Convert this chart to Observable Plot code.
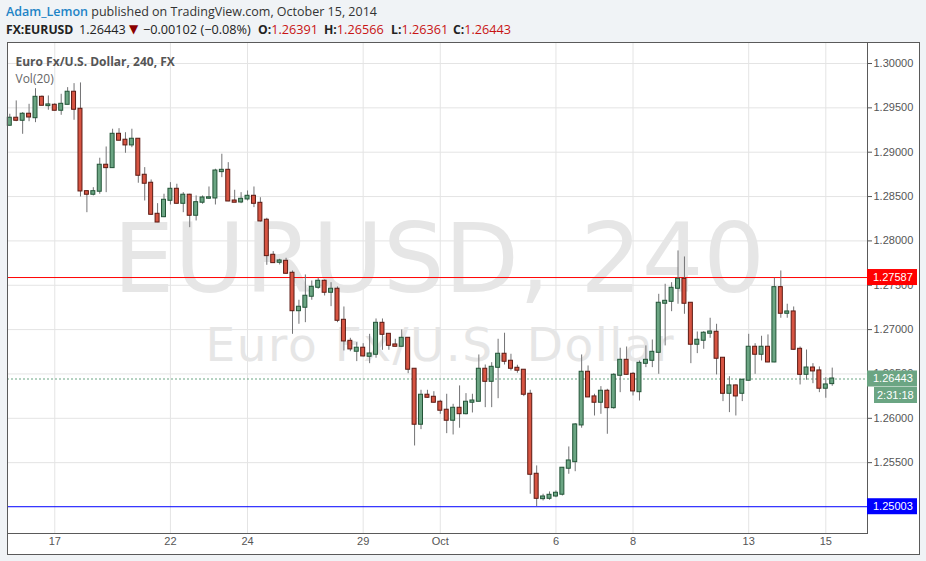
<!DOCTYPE html>
<html>
<head>
<meta charset="utf-8">
<script src="https://cdn.jsdelivr.net/npm/d3@7"></script>
<script src="https://cdn.jsdelivr.net/npm/@observablehq/plot@0.6"></script>
<style>
html, body { margin:0; padding:0; background:#f0f3f6; width:926px; height:561px; overflow:hidden; }
#hdr { position:absolute; left:0; top:0; width:926px; height:42px; font-family:"Open Sans", sans-serif; color:#333; }
#l1 { position:absolute; left:6px; top:3px; font-size:12.5px; line-height:18px; white-space:nowrap; }
#l1 .user { color:#1e84c6; font-weight:600; }
#l2 { position:absolute; left:0; top:19.5px; width:926px; height:18px; font-size:12.7px; line-height:18px; white-space:nowrap; color:#222; }
#l2 span { position:absolute; top:0; }
#l2 b { font-weight:bold; font-size:12.2px; }
#l2 .v { color:#c81414; font-style:normal; }
#l2 .tri { color:#8b0000; font-size:12px; font-family:"DejaVu Sans", sans-serif; }
#frame { position:absolute; left:7px; top:42px; width:911px; height:511px; border:1px solid #5a5a5a; background:#fff; }
#chart { position:absolute; left:0; top:42px; }
</style>
</head>
<body>
<div id="hdr">
  <div id="l1"><span class="user">Adam_Lemon</span> published on TradingView.com, October 15, 2014</div>
  <div id="l2">
    <span style="left:6px"><b>FX:EURUSD</b></span>
    <span style="left:79px">1.26443</span>
    <span class="tri" style="left:129px">▼</span>
    <span style="left:143px">−0.00102 (−0.08%)</span>
    <span style="left:258px"><b>O:</b><i class="v">1.26391</i></span>
    <span style="left:324px"><b>H:</b><i class="v">1.26566</i></span>
    <span style="left:391px"><b>L:</b><i class="v">1.26361</i></span>
    <span style="left:453px"><b>C:</b><i class="v">1.26443</i></span>
  </div>
</div>
<div id="frame"></div>
<div id="chart"></div>
<script>
// ---- data (EUR/USD, 240-minute candles) ----
const open = [1.29304,1.29383,1.29360,1.29428,1.29389,1.29619,1.29525,1.29529,1.29473,1.29540,
1.29676,1.29484,1.28555,1.28526,1.28560,1.28853,1.28826,1.29202,1.29135,1.29082,
1.29146,1.28740,1.28650,1.28300,1.28273,1.28458,1.28582,1.28424,1.28515,1.28289,
1.28436,1.28481,1.28484,1.28781,1.28796,1.28450,1.28439,1.28473,1.28503,1.28424,
1.28233,1.27838,1.27759,1.27770,1.27635,1.27213,1.27252,1.27376,1.27477,1.27545,
1.27421,1.27455,1.27105,1.26868,1.26756,1.26790,1.26699,1.26722,1.27071,1.26947,
1.26827,1.26812,1.26902,1.26553,1.25933,1.26260,1.26237,1.26181,1.26091,1.25978,
1.26113,1.26052,1.26181,1.26192,1.26553,1.26417,1.26575,1.26722,1.26643,1.26564,
1.26542,1.26271,1.25369,1.25094,1.25098,1.25124,1.25144,1.25437,1.25511,1.25925,
1.26519,1.26241,1.26181,1.26305,1.26120,1.26485,1.26654,1.26496,1.26300,1.26620,
1.26654,1.26744,1.27297,1.27319,1.27466,1.27567,1.27297,1.26835,1.26880,1.26959,
1.26970,1.26677,1.26282,1.26365,1.26282,1.26429,1.26801,1.26722,1.26801,1.26635,
1.27473,1.27184,1.27199,1.26778,1.26496,1.26567,1.26534,1.26339,1.26391];
const high = [1.29428,1.29578,1.29446,1.29540,1.29716,1.29634,1.29634,1.29547,1.29653,1.29728,
1.29773,1.29781,1.28563,1.28600,1.28932,1.29059,1.29259,1.29265,1.29220,1.29259,
1.29150,1.28826,1.28687,1.28420,1.28526,1.28657,1.28639,1.28544,1.28526,1.28507,
1.28507,1.28608,1.28808,1.28977,1.28882,1.28571,1.28544,1.28563,1.28608,1.28487,
1.28255,1.27879,1.27793,1.27804,1.27661,1.27331,1.27616,1.27548,1.27579,1.27560,
1.27529,1.27481,1.27255,1.26902,1.26853,1.26841,1.26947,1.27120,1.27120,1.26954,
1.26891,1.26996,1.26909,1.26556,1.26316,1.26316,1.26300,1.26203,1.26271,1.26158,
1.26365,1.26278,1.26271,1.26714,1.26601,1.26627,1.26891,1.26959,1.26722,1.26598,
1.26545,1.26316,1.25463,1.25144,1.25170,1.25181,1.25443,1.25677,1.25940,1.26714,
1.26590,1.26271,1.26357,1.26327,1.26503,1.26790,1.26804,1.26515,1.26646,1.26816,
1.26883,1.27398,1.27511,1.27529,1.27887,1.27819,1.27304,1.26973,1.26977,1.27128,
1.27060,1.26684,1.26469,1.26376,1.26440,1.26947,1.26841,1.26925,1.26940,1.27580,
1.27661,1.27286,1.27255,1.26804,1.26770,1.26616,1.26579,1.26458,1.26566];
const low = [1.29296,1.29344,1.29202,1.29344,1.29333,1.29525,1.29473,1.29465,1.29416,1.29535,
1.29360,1.28495,1.28318,1.28507,1.28526,1.28544,1.28819,1.29127,1.28988,1.29051,
1.28650,1.28450,1.28289,1.28206,1.28262,1.28405,1.28413,1.28318,1.28149,1.28225,
1.28413,1.28469,1.28405,1.28713,1.28442,1.28436,1.28420,1.28450,1.28375,1.28213,
1.27725,1.27755,1.27729,1.27624,1.26947,1.27060,1.27078,1.27331,1.27455,1.27379,
1.27259,1.27078,1.26759,1.26751,1.26639,1.26692,1.26616,1.26677,1.26767,1.26767,
1.26804,1.26804,1.26503,1.25688,1.25872,1.26226,1.26173,1.26045,1.25827,1.25812,
1.25888,1.26038,1.26060,1.26188,1.26120,1.26120,1.26221,1.26601,1.26534,1.26508,
1.26244,1.25144,1.25003,1.25068,1.25076,1.25105,1.25124,1.25369,1.25398,1.25888,
1.26236,1.26026,1.26045,1.25820,1.26102,1.26289,1.26485,1.26252,1.26195,1.26571,
1.26571,1.26496,1.26816,1.27202,1.27286,1.27173,1.26616,1.26729,1.26778,1.26902,
1.26489,1.26188,1.26064,1.26026,1.26188,1.26421,1.26496,1.26646,1.26627,1.26627,
1.27128,1.27128,1.26770,1.26376,1.26429,1.26390,1.26289,1.26226,1.26361];
const close = [1.29383,1.29360,1.29428,1.29397,1.29619,1.29529,1.29533,1.29473,1.29540,1.29676,
1.29484,1.28563,1.28526,1.28555,1.28853,1.28826,1.29202,1.29135,1.29082,1.29146,
1.28740,1.28650,1.28300,1.28213,1.28458,1.28582,1.28424,1.28515,1.28289,1.28431,
1.28484,1.28486,1.28788,1.28796,1.28450,1.28436,1.28469,1.28503,1.28424,1.28225,
1.27834,1.27755,1.27774,1.27635,1.27213,1.27252,1.27376,1.27477,1.27545,1.27421,
1.27455,1.27105,1.26872,1.26782,1.26790,1.26703,1.26725,1.27071,1.26947,1.26823,
1.26812,1.26902,1.26553,1.25933,1.26260,1.26237,1.26181,1.26091,1.25978,1.26113,
1.26052,1.26181,1.26195,1.26553,1.26417,1.26575,1.26722,1.26643,1.26564,1.26542,
1.26271,1.25369,1.25098,1.25113,1.25132,1.25155,1.25437,1.25519,1.25925,1.26519,
1.26241,1.26181,1.26305,1.26120,1.26485,1.26654,1.26496,1.26308,1.26620,1.26654,
1.26744,1.27297,1.27319,1.27466,1.27567,1.27297,1.26835,1.26880,1.26959,1.26973,
1.26677,1.26282,1.26365,1.26252,1.26429,1.26801,1.26722,1.26801,1.26635,1.27473,
1.27184,1.27199,1.26778,1.26496,1.26567,1.26534,1.26339,1.26376,1.26443];

// x-axis: candle index of the first bar of each labelled day
const dayIdx = [8, 26, 38, 56, 68, 86, 98, 116, 128];
const dayLabels = ["17", "22", "24", "29", "Oct", "6", "8", "13", "15"];
// y-axis tick values
const priceTicks = [1.255, 1.26, 1.265, 1.27, 1.275, 1.28, 1.285, 1.29, 1.295, 1.30];
// horizontal levels
const levelHigh = 1.27587;
const levelLow = 1.25003;
const lastPrice = 1.26443;
const timerText = "2:31:18";
const titleText = "Euro Fx/U.S. Dollar, 240, FX";
const volText = "Vol(20)";
const wmMain = "EURUSD, 240";
const wmSub = "Euro Fx/U.S. Dollar";

const candles = open.map((o, k) => ({
  i: k + 1, o, h: high[k], l: low[k], c: close[k], up: close[k] >= open[k]
}));

const GREEN = "#6ba583", GREEN_B = "#225437", RED = "#d75442", RED_B = "#5b1a13";
const half = 0.31;

const chart = Plot.plot({
  width: 926,
  height: 519,
  marginLeft: 7,
  marginRight: 59,
  marginTop: 0,
  marginBottom: 28,
  style: { background: "transparent", fontFamily: "'Liberation Sans', Arial, sans-serif", fontSize: "11px", color: "#555", overflow: "visible" },
  x: { type: "linear", domain: [0.642, 134.49] },
  y: { domain: [1.247012, 1.302368] },
  marks: [
    Plot.ruleY(priceTicks, { stroke: "#e4e4e4" }),
    Plot.ruleX(dayIdx, { stroke: "#e4e4e4" }),
    Plot.text([wmMain], { frameAnchor: "top", dx: 1.5, dy: 249, lineAnchor: "bottom", fontSize: 97, fontFamily: "DejaVu Sans", fill: "#e6e6e6", className: "wm-main" }),
    Plot.text([wmSub], { frameAnchor: "top", dx: 2, dy: 318, lineAnchor: "bottom", fontSize: 47, fontFamily: "DejaVu Sans", fill: "#e6e6e6", className: "wm-sub" }),
    Plot.text([titleText], { frameAnchor: "top-left", dx: 8, dy: 23, lineAnchor: "bottom", fontSize: 12, fontWeight: "bold", fontFamily: "'Open Sans'", fill: "#555" }),
    Plot.text([volText], { frameAnchor: "top-left", dx: 8, dy: 40, lineAnchor: "bottom", fontSize: 12, fontFamily: "'Open Sans'", fill: "#666" }),
    Plot.ruleY([lastPrice], { stroke: GREEN, strokeDasharray: "2,2" }),
    Plot.ruleY([levelHigh], { stroke: "#ff0000" }),
    Plot.ruleY([levelLow], { stroke: "#0000ff" }),
    Plot.ruleX(candles, { x: "i", y1: "l", y2: "h", stroke: "#737375" }),
    Plot.rect(candles, {
      x1: d => d.i - half, x2: d => d.i + half,
      y1: d => Math.min(d.o, d.c), y2: d => Math.max(d.o, d.c),
      insetTop: -0.5, insetBottom: -0.5,
      fill: d => d.up ? GREEN : RED,
      stroke: d => d.up ? GREEN_B : RED_B,
      strokeWidth: 1
    }),
    Plot.frame({ stroke: "#5a5a5a" }),
    Plot.axisY(priceTicks, { anchor: "right", tickSize: 4, tickPadding: 2, tickFormat: d => d.toFixed(5), stroke: "#555", fill: "#555", label: null }),
    Plot.axisX(dayIdx, { anchor: "bottom", tickSize: 0, tickPadding: 4, tickFormat: d => dayLabels[dayIdx.indexOf(d)], fill: "#555", label: null })
  ]
});

document.getElementById("chart").appendChild(chart);

const svg = d3.select(chart);
// widen watermark lettering to the reference's Verdana-like set width
svg.selectAll(".wm-main text").attr("textLength", 652).attr("lengthAdjust", "spacing");
svg.selectAll(".wm-sub text").attr("textLength", 468).attr("lengthAdjust", "spacing");

// price labels on the right scale, positioned through the plot's y scale
const ys = chart.scale("y");
const paneRight = 926 - 59;
function priceBox(p, txt, fill, offsetY, x0, tx) {
  const yc = ys.apply(p) + offsetY;
  const g = svg.append("g");
  g.append("rect").attr("x", x0).attr("y", yc - 8).attr("width", 917 - x0).attr("height", 16).attr("fill", fill);
  g.append("text").attr("x", tx).attr("y", yc).attr("dy", "0.35em").attr("text-anchor", "start")
    .attr("fill", "#fff").attr("font-size", 11).attr("font-family", "'Liberation Sans', Arial, sans-serif").text(txt);
}
priceBox(levelHigh, levelHigh.toFixed(5), "#ff0000", 0, paneRight, 873);
priceBox(lastPrice, lastPrice.toFixed(5), GREEN, 0, paneRight, 873);
priceBox(lastPrice, timerText, GREEN, 16.5, paneRight + 7, 877);
priceBox(levelLow, levelLow.toFixed(5), "#0000ff", 0, paneRight, 873);
</script>
</body>
</html>
